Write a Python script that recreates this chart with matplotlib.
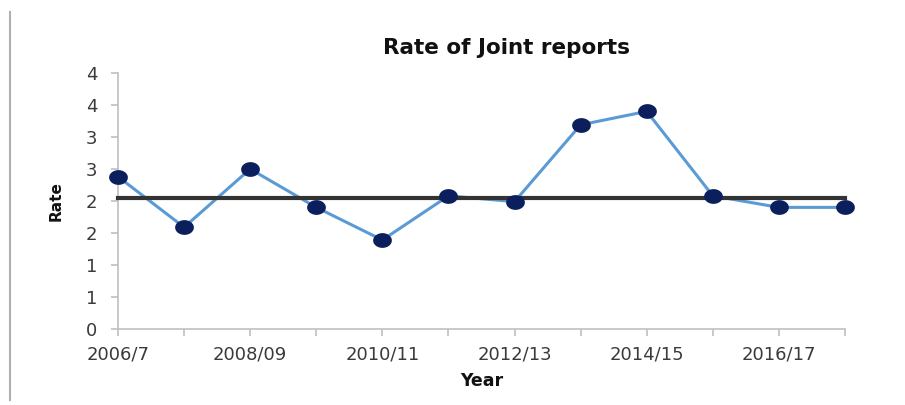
import numpy as np
import matplotlib.pyplot as plt
from matplotlib.ticker import FuncFormatter, MultipleLocator
from matplotlib.path import Path

years = ['2006/7', '2007/08', '2008/09', '2009/10', '2010/11', '2011/12',
         '2012/13', '2013/14', '2014/15', '2015/16', '2016/17', '2017/18']
rate = [2.38, 1.59, 2.50, 1.90, 1.39, 2.08, 1.99, 3.19, 3.40, 2.08, 1.90, 1.90]
average = 2.04

plt.rcParams['font.family'] = ['DejaVu Sans']

fig = plt.figure(figsize=(9.05, 4.05), dpi=100)
ax = fig.add_axes([0.1304, 0.1877, 0.8033, 0.6321])

# slightly wide ellipse marker, like the stretched original
t = np.linspace(0, 2 * np.pi, 40)
ell = Path(np.column_stack([1.3 * np.cos(t), np.sin(t)]))

x = np.arange(len(years))
ax.plot(x, rate, color='#5b9bd5', lw=2.2, zorder=2, clip_on=False)
ax.plot(x, [average] * len(years), color='#333333', lw=3, zorder=3, clip_on=False)
ax.plot(x, rate, ls='none', marker=ell, ms=12.5, mfc='#0b1f5c', mec='#0b1f5c',
        zorder=4, clip_on=False)

ax.set_xlim(0, len(years) - 1)
ax.set_ylim(0, 4)
ax.yaxis.set_major_locator(MultipleLocator(0.5))
ax.yaxis.set_major_formatter(FuncFormatter(lambda v, p: str(int(np.floor(v + 0.5)))))
ax.set_xticks(x)
ax.set_xticklabels([y if i % 2 == 0 else '' for i, y in enumerate(years)])

for s in ['top', 'right']:
    ax.spines[s].set_visible(False)
for s in ['left', 'bottom']:
    ax.spines[s].set_color('#c0c0c0')
    ax.spines[s].set_linewidth(1.2)
ax.tick_params(axis='both', colors='#c0c0c0', labelcolor='#3a3a3a', labelsize=13,
               length=5, width=1.2)
ax.tick_params(axis='x', pad=7)
ax.tick_params(axis='y', pad=10)

ax.set_title('Rate of Joint reports', fontsize=15.5, fontweight='bold', color='#111111',
             pad=14, x=0.535)
ax.set_ylabel('Rate', fontsize=11, fontweight='bold', color='#111111', labelpad=16)
ax.set_xlabel('Year', fontsize=12.5, fontweight='bold', color='#111111', labelpad=6)

# gray border line at the left edge of the picture
fig.add_artist(plt.Line2D([0.011, 0.011], [0.012, 0.97], color='#b0b0b0', lw=1.5))

fig.savefig('out.png', dpi=100)
